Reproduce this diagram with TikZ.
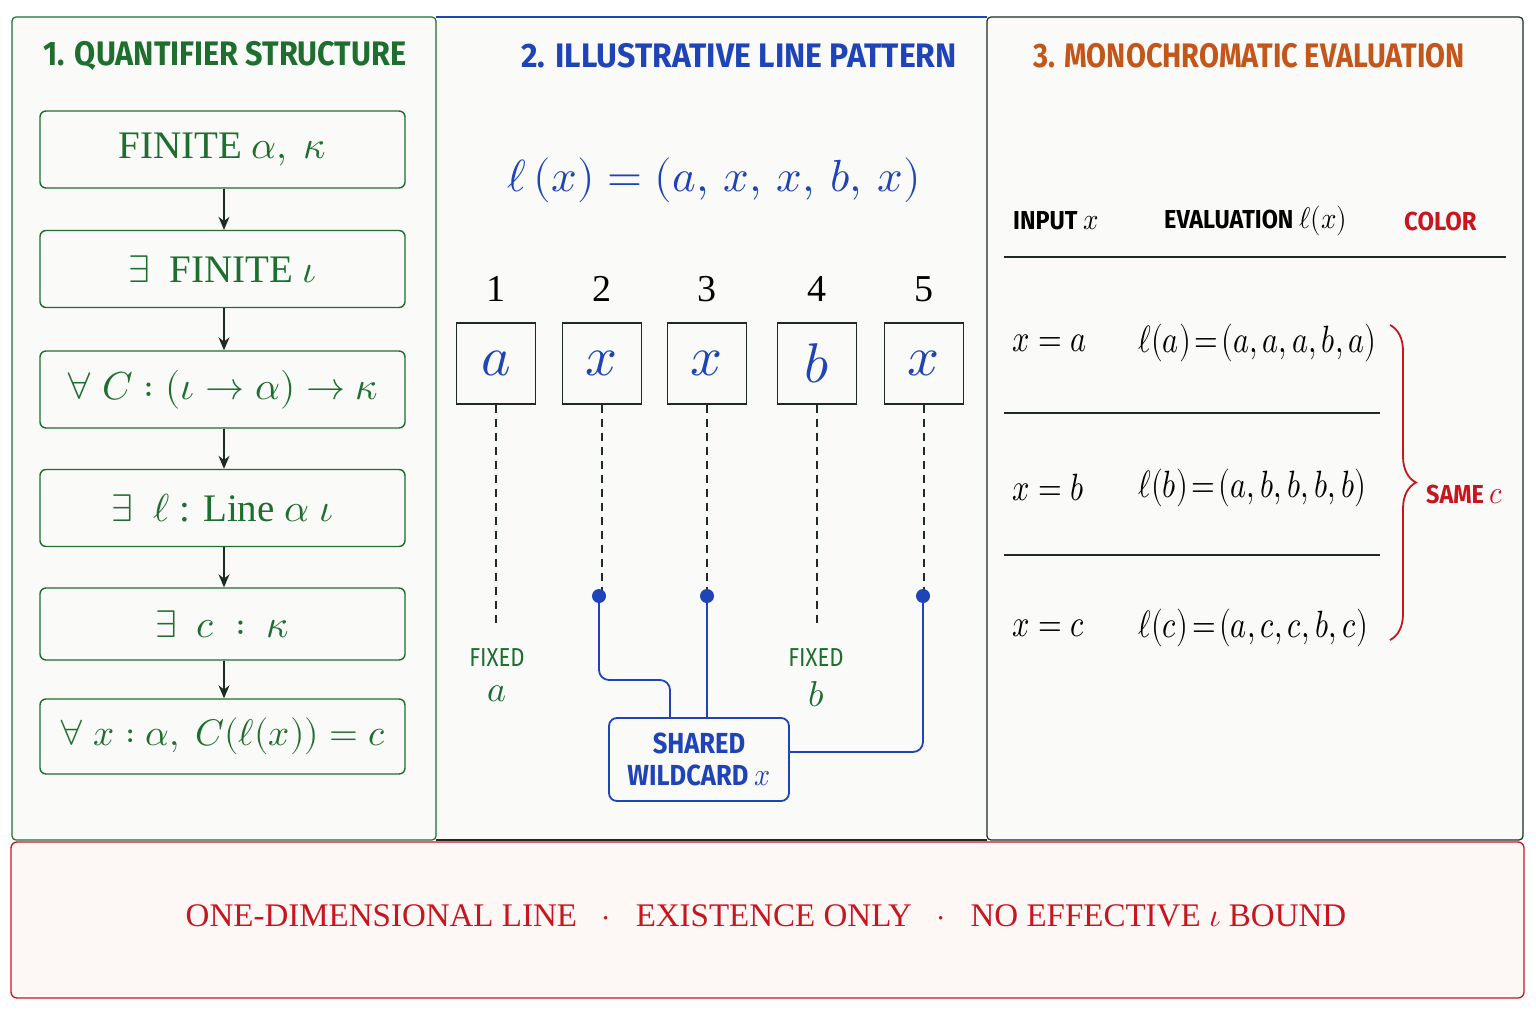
\documentclass[tikz,border=0pt]{standalone}
\usepackage{fontspec}
\usepackage{unicode-math}
\setmainfont{Liberation Serif}
\setmathfont{Latin Modern Math}
\usepackage{graphicx}
\newfontfamily\hd{Fira Sans}
\usetikzlibrary{decorations.pathreplacing,arrows.meta}
\definecolor{gr}{HTML}{1E6E2F}
\definecolor{bl}{HTML}{1F44B8}
\definecolor{org}{HTML}{C4561A}
\definecolor{rd}{HTML}{C8161E}
\definecolor{dk}{HTML}{1E2A24}
\definecolor{pbg}{HTML}{FAFAF8}
\definecolor{rbg}{HTML}{FDF8F6}
\newcommand\ttl[2][0.82]{\scalebox{#1}[1]{#2}}
\begin{document}
\begin{tikzpicture}[x=1pt,y=-1pt,
  title/.style={font=\hd\bfseries\fontsize{34}{38}\selectfont},
  qbox/.style={draw=gr, line width=1.4pt, rounded corners=6pt, minimum width=365pt, minimum height=77pt, text=gr, font=\fontsize{39}{44}\selectfont, inner sep=0pt},
  qarrow/.style={dk, line width=1.5pt, -{Stealth[length=13pt,width=11pt]}},
  cell/.style={draw=dk, line width=1.2pt, minimum width=79pt, minimum height=81pt, inner sep=0pt, text=bl, font=\fontsize{56}{60}\selectfont},
  num/.style={font=\fontsize{38}{40}\selectfont, text=black},
  wire/.style={bl, line width=1.8pt, rounded corners=10pt},
  dsh/.style={dk, line width=1.5pt, dash pattern=on 8pt off 6pt},
  fixl/.style={text=gr, inner sep=0pt, font=\hd\fontsize{26}{30}\selectfont},
  fixv/.style={text=gr, inner sep=0pt, font=\fontsize{36}{36}\selectfont},
  tcell/.style={anchor=west, inner sep=0pt, font=\fontsize{38}{40}\selectfont},
  hdr/.style={anchor=west, inner sep=0pt, font=\hd\fontsize{26}{30}\selectfont\bfseries}
]
\useasboundingbox (0,0) rectangle (1536,1024);
\fill[white] (0,0) rectangle (1536,1024);
% panels
\fill[pbg] (12,17) rectangle (1523,840);
\draw[gr, line width=1.2pt, rounded corners=4pt] (12,17) rectangle (436,840);
\draw[bl, line width=1.2pt] (436,17) -- (987,17);
\draw[dk, line width=1.2pt] (436,840) -- (987,840);
\draw[dk, line width=1.2pt, rounded corners=4pt] (987,17) rectangle (1523,840);
% bottom
\draw[rd, line width=1.3pt, fill=rbg, rounded corners=6pt] (11,842) rectangle (1524,998);

% panel 1
\node[title, text=gr] (t1) at (225,56) {\ttl[0.90]{1. QUANTIFIER STRUCTURE}};
\node[qbox] (q1) at (222.5,149.5) {FINITE $\alpha,\ \kappa$};
\node[qbox] (q2) at (222.5,269) {$\exists$\ \ FINITE $\iota$};
\node[qbox] (q3) at (222.5,389.5) {$\forall\ C : (\iota \to \alpha) \to \kappa$};
\node[qbox] (q4) at (222.5,508) {$\exists$\ \ $\ell$ : Line $\alpha\ \iota$};
\node[qbox, minimum height=72pt] (q5) at (222.5,624) {$\exists\ \ c\ :\ \kappa$};
\node[qbox, minimum height=75pt, font=\fontsize{37}{42}\selectfont] (q6) at (222.5,736.5) {$\forall\ x : \alpha,\ C(\ell(x)) = c$};
\foreach \a/\b in {q1/q2,q2/q3,q3/q4,q4/q5,q5/q6}
  \draw[qarrow] (\a.south -| 224,0) -- (\b.north -| 224,0);

% panel 2
\node[title, text=bl] (t2) at (739,56) {\ttl[0.94]{2. ILLUSTRATIVE LINE PATTERN}};
\node[text=bl, font=\fontsize{45}{50}\selectfont] (f) at (714,180) {$\ell\,(x) = (a,\, x,\, x,\, b,\, x)$};
\foreach \i/\x/\v in {1/496/a,2/602/x,3/707/x,4/817/b,5/924/x}{
  \node[num] (n\i) at (\x,289) {\i};
  \node[cell] (c\i) at (\x,363.5) {$\v$};
}
\coordinate (e1) at (496,625);
\coordinate (e4) at (817,625);
\coordinate (d2) at (599,596);
\coordinate (d3) at (707,596);
\coordinate (d5) at (923,596);
\draw[dsh] (c1.south) -- (e1);
\draw[dsh] (c4.south) -- (e4);
\draw[dsh] (c2.south) -- (c2.south |- d2);
\draw[dsh] (c3.south) -- (d3);
\draw[dsh] (c5.south) -- (c5.south |- d5);
\node[fixl] (fa) at (497,658) {\ttl[0.85]{FIXED}};
\node[fixv] (fav) at (497,694) {$a$};
\node[fixl] (fb) at (816,658) {\ttl[0.85]{FIXED}};
\node[fixv] (fbv) at (816,694) {$b$};
\node[draw=bl, line width=1.8pt, rounded corners=8pt, minimum width=180pt, minimum height=83pt, text=bl, align=center, inner sep=0pt, font=\hd\bfseries\fontsize{29}{32}\selectfont] (sw) at (699,759.5) {\ttl[0.88]{SHARED}\\\ttl[0.88]{WILDCARD \normalfont\fontsize{32}{32}\selectfont$x$}};
\coordinate (k2) at (670,680);
\draw[wire] (d2) |- (k2) -- (k2 |- sw.north);
\draw[wire] (d3) -- (d3 |- sw.north);
\draw[wire] (d5) |- ([yshift=7.5pt]sw.east);
\foreach \d in {d2,d3,d5} \fill[bl] (\d) circle (7);

% panel 3
\node[title, text=org] (t3) at (1249,56) {\ttl[0.85]{3. MONOCHROMATIC EVALUATION}};
\node[hdr] (h1) at (1013,221) {\ttl[0.90]{INPUT \normalfont\fontsize{30}{30}\selectfont$x$}};
\node[hdr] (h2) at (1164,221) {\ttl[0.90]{EVALUATION \normalfont\fontsize{30}{30}\selectfont$\ell(x)$}};
\node[hdr, text=rd] (h3) at (1404,221) {\ttl[0.92]{COLOR}};
\draw[dk, line width=2.2pt] (1004,257) -- (1506,257);
\draw[dk, line width=1.1pt] (1004,413) -- (1380,413);
\draw[dk, line width=1.1pt] (1004,555) -- (1380,555);
\node[tcell] (r1a) at (1012,343) {\ttl[0.80]{$x = a$}};
\node[tcell] (r1b) at (1138,343) {\ttl[0.80]{$\ell(a)\!=\!(a,a,a,b,a)$}};
\node[tcell] (r2a) at (1012,488) {\ttl[0.80]{$x = b$}};
\node[tcell] (r2b) at (1138,488) {\ttl[0.80]{$\ell(b)\!=\!(a,b,b,b,b)$}};
\node[tcell] (r3a) at (1012,628) {\ttl[0.80]{$x = c$}};
\node[tcell] (r3b) at (1138,628) {\ttl[0.80]{$\ell(c)\!=\!(a,c,c,b,c)$}};
\draw[rd, line width=1.8pt, decorate, decoration={brace, amplitude=26pt}] (1390,325) -- (1390,640);
\node[hdr, text=rd] (same) at (1426,494) {\ttl[0.90]{SAME \normalfont\fontsize{32}{32}\selectfont$c$}};

% bottom text
\node[text=rd, font=\fontsize{33}{38}\selectfont] (bt) at (766,916) {ONE-DIMENSIONAL LINE \ \ $\cdot$ \ \ EXISTENCE ONLY \ \ $\cdot$ \ \ NO EFFECTIVE $\iota$ BOUND};
\end{tikzpicture}
\end{document}
